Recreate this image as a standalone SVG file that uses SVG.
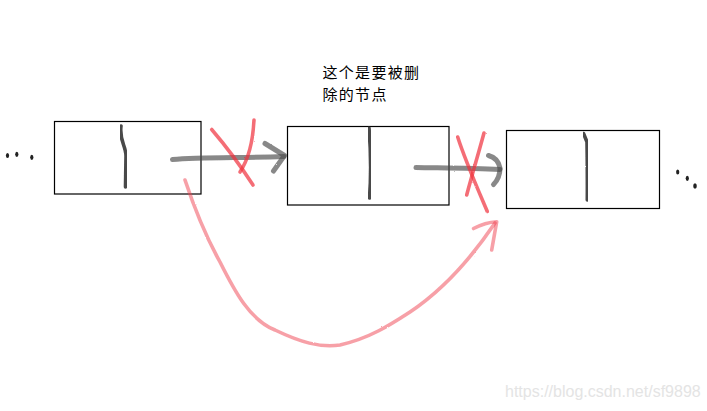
<svg xmlns="http://www.w3.org/2000/svg" width="707" height="411" viewBox="0 0 707 411">
<style>
.box{fill:#fff;stroke:#000;stroke-width:1.2}
.pen{fill:none;stroke:#2a2a2a;stroke-width:3.6;stroke-linecap:round;stroke-linejoin:round;opacity:.85}
.gray{fill:none;stroke:#4a4a4a;stroke-width:5;stroke-linecap:round;stroke-linejoin:round;opacity:.65}
.red{fill:none;stroke:#f0303c;stroke-width:3.6;stroke-linecap:round;stroke-linejoin:round;opacity:.7}
.redc{fill:none;stroke:#f04050;stroke-width:3.6;stroke-linecap:round;stroke-linejoin:round;opacity:.5}
.dot{fill:#222}
.lbl{font-family:"Noto Sans CJK SC","Noto Sans",sans-serif;font-size:15px;fill:#000;letter-spacing:1.3px}
.wm{font-family:"Liberation Sans",Arial,sans-serif;font-size:16px;fill:#e4e4e4}
</style>
<defs>
<filter id="crayon" x="-10%" y="-10%" width="120%" height="120%">
<feTurbulence type="fractalNoise" baseFrequency="0.9" numOctaves="2" seed="3" result="n"/>
<feDisplacementMap in="SourceGraphic" in2="n" scale="1.6"/>
</filter>
</defs>
<rect width="707" height="411" fill="#fff"/>
<g id="dots-left">
<ellipse class="dot" cx="7.5" cy="155.5" rx="1.6" ry="2.6"/>
<ellipse class="dot" cx="16.8" cy="154.3" rx="1.6" ry="2.6"/>
<ellipse class="dot" cx="31.8" cy="157.3" rx="1.6" ry="2.6"/>
</g>
<g id="node1">
<rect class="box" x="54.5" y="121.5" width="146.5" height="72.5"/>
<path class="pen" filter="url(#crayon)" d="M121,126 C119,140 126,146 126,156 L125.5,187"/>
</g>
<g id="node2">
<rect class="box" x="287.5" y="126.5" width="161.5" height="78.5"/>
<path class="pen" filter="url(#crayon)" d="M369,128 Q372,165 369.5,198"/>
</g>
<g id="node3">
<rect class="box" x="506.5" y="130.5" width="153" height="78"/>
<path class="pen" filter="url(#crayon)" d="M583.5,133.5 L587,142 Q587.5,170 587.3,200"/>
</g>
<g id="dots-right">
<ellipse class="dot" cx="677.7" cy="172" rx="1.6" ry="2.6"/>
<ellipse class="dot" cx="687.3" cy="178.3" rx="1.6" ry="2.6"/>
<ellipse class="dot" cx="695" cy="186" rx="1.8" ry="2.8"/>
</g>
<g id="label">
<text class="lbl" x="322.5" y="78">这个是要被删</text>
<text class="lbl" x="322.5" y="100">除的节点</text>
</g>
<g id="connectors">
<g filter="url(#crayon)">
<path class="gray" d="M172.5,159.5 C200,157 240,158 284,156.5"/>
<path class="gray" d="M265,143.5 L284.5,155.5 L273.5,171"/>
<path class="gray" d="M416,167.5 C440,168 470,168 500,169.5"/>
<path class="gray" d="M488.5,155.5 Q498,158 500,168 Q500,178 493.5,184.5"/>
<path class="red" d="M211.7,129.5 C225,145 240,165 253,185"/>
<path class="red" d="M254,120 C253,140 248,160 240,172"/>
<path class="red" d="M457.7,137 C465,160 476,185 487.3,211.5"/>
<path class="red" d="M484,133 C478,155 472,175 466.7,195"/>
<path class="redc" d="M185,180 C195,210 205,235 220,262 C235,292 250,320 275,330 C300,342 320,348 340,345 C370,338 390,325 410,312 C440,292 470,260 495,223"/>
<path class="redc" d="M473.5,228.5 C482,224 490,222 496.7,221.7 L491.7,250"/>
</g>
</g>
<text class="wm" x="505" y="397">https://blog.csdn.net/sf9898</text>
</svg>
